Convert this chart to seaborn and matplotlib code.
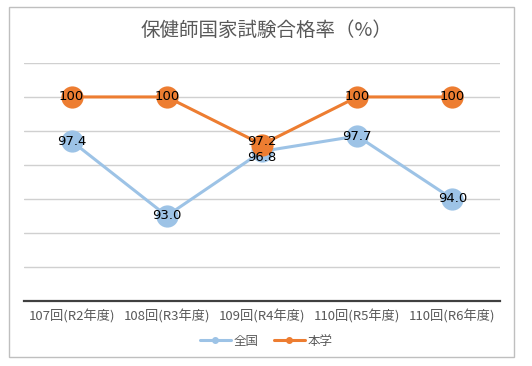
import matplotlib
matplotlib.use("Agg")
import matplotlib.pyplot as plt
import seaborn as sns
import pandas as pd
from matplotlib.patches import Rectangle
from matplotlib.lines import Line2D

categories = ["107回(R2年度)", "108回(R3年度)", "109回(R4年度)", "110回(R5年度)", "110回(R6年度)"]
zenkoku = [97.4, 93.0, 96.8, 97.7, 94.0]
honkaku = [100, 100, 97.2, 100, 100]
zenkoku_labels = ["97.4", "93.0", "96.8", "97.7", "94.0"]
honkaku_labels = ["100", "100", "97.2", "100", "100"]
series_names = ["全国", "本学"]

sns.set_theme(style="white")
plt.rcParams['font.family'] = ['Noto Sans CJK JP', 'DejaVu Sans']

df = pd.DataFrame({
    "x": list(range(len(categories))) * 2,
    "value": zenkoku + honkaku,
    "series": [series_names[0]] * len(categories) + [series_names[1]] * len(categories),
})

fig = plt.figure(figsize=(5.32, 3.66), dpi=100)
ax = fig.add_axes([0.045, 0.178, 0.895, 0.65])

palette = {"全国": "#9dc3e6", "本学": "#ed7d31"}
sns.lineplot(data=df, x="x", y="value", hue="series", palette=palette,
             marker="o", markersize=16, linewidth=2.2, markeredgewidth=0,
             ax=ax, legend=False, zorder=3)

ax.set_xlim(-0.5, len(categories) - 0.5)
ax.set_ylim(88, 102)
ax.set_yticks([88, 90, 92, 94, 96, 98, 100, 102])
ax.yaxis.grid(True, color="#d0d0d0", linewidth=1)
ax.set_yticklabels([])
ax.tick_params(axis="y", length=0)
ax.set_xticks(range(len(categories)))
ax.set_xticklabels(categories, fontsize=9.5, color="#595959")
ax.tick_params(axis="x", length=0, pad=6)
ax.set_xlabel("")
ax.set_ylabel("")
for s in ["left", "top", "right"]:
    ax.spines[s].set_visible(False)
ax.spines["bottom"].set_color("#404040")
ax.spines["bottom"].set_linewidth(1.6)
ax.spines["bottom"].set_zorder(4)

for i, (v, t) in enumerate(zip(zenkoku, zenkoku_labels)):
    dy = -0.35 if i == 2 else 0
    ax.text(i, v + dy, t, ha="center", va="center", fontsize=9.5,
            family="DejaVu Sans", color="black", zorder=5)
for i, (v, t) in enumerate(zip(honkaku, honkaku_labels)):
    dy = 0.15 if i == 2 else 0
    ax.text(i, v + dy, t, ha="center", va="center", fontsize=9.5,
            family="DejaVu Sans", color="black", zorder=5)

fig.text(0.5, 0.918, "保健師国家試験合格率（%）", ha="center", va="center",
         fontsize=14, color="#595959")

handles = [Line2D([0], [0], color=palette[n], linewidth=2.2, marker="o", markersize=4)
           for n in series_names]
leg = fig.legend(handles, series_names, loc="center", bbox_to_anchor=(0.5, 0.068),
                 ncol=2, frameon=False, fontsize=9, handlelength=2.5,
                 columnspacing=1.2, handletextpad=0.2)
for t in leg.get_texts():
    t.set_color("#595959")

fig.patches.append(Rectangle((9 / 532, 1 - 357 / 366), 505 / 532, 350 / 366,
                             transform=fig.transFigure, fill=False,
                             edgecolor="#bfbfbf", linewidth=1))

fig.savefig("out.png", dpi=100)
